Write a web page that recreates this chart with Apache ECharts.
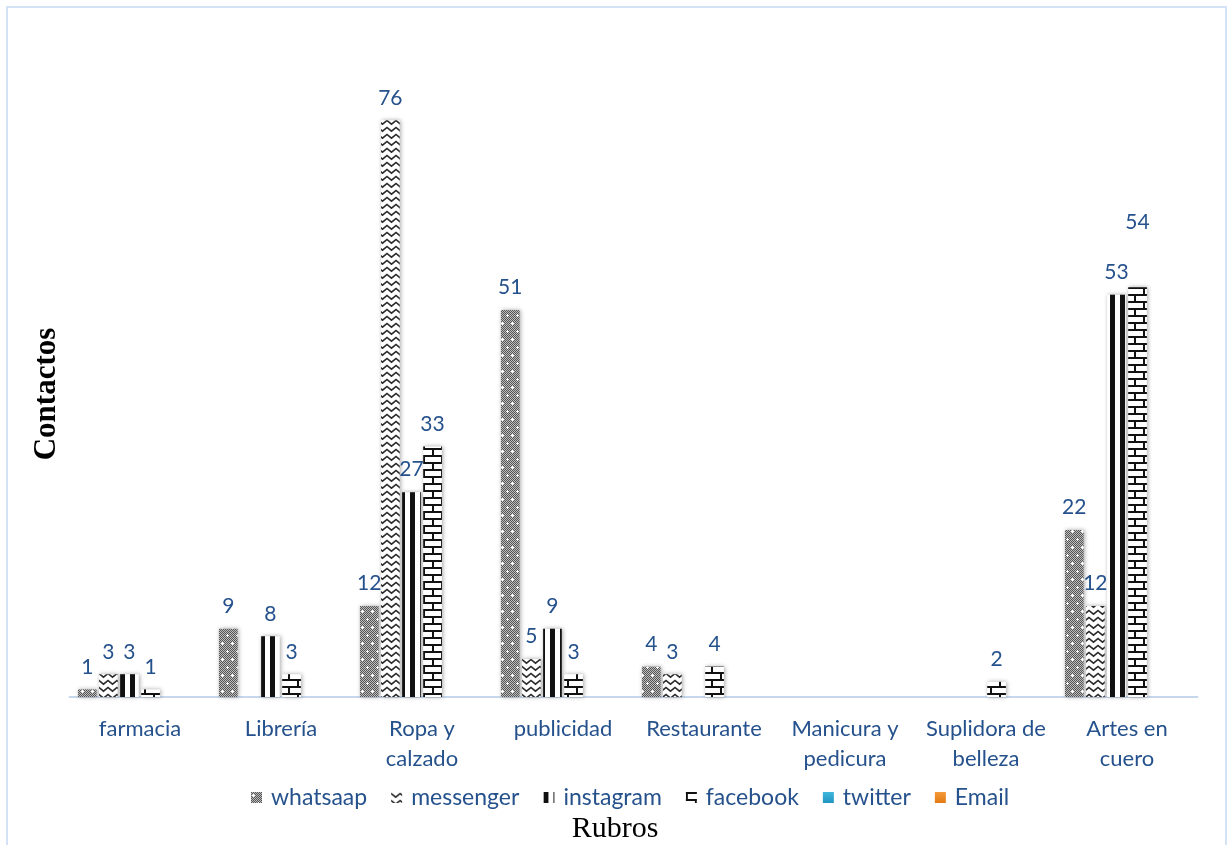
<!DOCTYPE html>
<html>
<head>
<meta charset="utf-8">
<title>Contactos por rubro</title>
<script src="https://cdn.jsdelivr.net/npm/echarts@6/dist/echarts.min.js"></script>
<style>
  html, body { margin: 0; padding: 0; background: #ffffff; }
  #chart { width: 1230px; height: 845px; }
</style>
</head>
<body>
<div id="chart"></div>
<script>
// Rubros (categories) and contacts per channel
const rubros = ['farmacia', 'Librería', 'Ropa y\ncalzado', 'publicidad', 'Restaurante', 'Manicura y\npedicura', 'Suplidora de\nbelleza', 'Artes en\ncuero'];
const canales = ['whatsaap', 'messenger', 'instagram', 'facebook', 'twitter', 'Email'];

const whatsaap  = [1, 9, 12, 51, 4, null, null, 22];
const messenger = [3, null, 76, 5, 3, null, null, 12];
const instagram = [3, 8, 27, 9, null, null, null, 53];
const facebook  = [1, 3, 33, 3, 4, null, 2, 54];
const twitter   = [null, null, null, null, null, null, null, null];
const email     = [null, null, null, null, null, null, null, null];

const yMin = 0;
const yMax = 80;

// ---- fill patterns drawn on small canvases ----
function tile(w, h, draw) {
  const c = document.createElement('canvas');
  c.width = w; c.height = h;
  const g = c.getContext('2d');
  g.fillStyle = '#ffffff';
  g.fillRect(0, 0, w, h);
  draw(g, w, h);
  return { image: c, repeat: 'repeat' };
}

// dotted checker with small white crosses
const patWhatsaap = tile(10, 16, (g, w, h) => {
  for (let y = 0; y < h; y++) {
    for (let x = 0; x < w; x++) {
      g.fillStyle = (x + y) % 2 === 0 ? '#555555' : '#bdbdbd';
      g.fillRect(x, y, 1, 1);
    }
  }
  g.fillStyle = '#ffffff';
  [[2, 3], [7, 11]].forEach(([cx, cy]) => {
    g.fillRect(cx - 1, cy, 3, 1);
    g.fillRect(cx, cy - 1, 1, 3);
  });
});

// zigzag chevrons
const patMessenger = tile(9, 7, (g) => {
  g.strokeStyle = '#2a2a2a';
  g.lineWidth = 1.6;
  g.beginPath();
  g.moveTo(-0.5, 1.2);
  g.lineTo(4.5, 5.2);
  g.lineTo(9.5, 1.2);
  g.stroke();
});

// heavy vertical stripes
const patInstagram = tile(10, 4, (g, w, h) => {
  g.fillStyle = '#111111';
  g.fillRect(0, 0, 5, h);
});

// brick / ladder pattern
const patFacebook = tile(18, 14, (g) => {
  g.fillStyle = '#111111';
  g.fillRect(0, 0, 18, 2);
  g.fillRect(0, 7, 18, 2);
  g.fillRect(0, 0, 2, 7);
  g.fillRect(9, 7, 2, 7);
});

const colTwitter = new echarts.graphic.LinearGradient(0, 0, 0, 1, [
  { offset: 0, color: '#3fb6dc' }, { offset: 1, color: '#2294c0' }
]);
const colEmail = new echarts.graphic.LinearGradient(0, 0, 0, 1, [
  { offset: 0, color: '#f59a3a' }, { offset: 1, color: '#e27a14' }
]);

const textBlue = '#25518c';
const uiFont = 'Lato, "Open Sans", sans-serif';

function barSeries(name, values, fill, extraLabel) {
  const data = values.map((v, i) => {
    if (extraLabel && extraLabel[i]) {
      return { value: v, label: extraLabel[i] };
    }
    return v;
  });
  return {
    name: name,
    type: 'bar',
    data: data,
    barGap: '13%',
    barCategoryGap: '12%',
    itemStyle: {
      color: fill,
      shadowColor: 'rgba(0,0,0,0.35)',
      shadowBlur: 4,
      shadowOffsetX: 1,
      shadowOffsetY: 0
    },
    label: {
      show: true,
      position: 'top',
      distance: 12,
      color: textBlue,
      fontFamily: uiFont,
      fontSize: 21,
      formatter: p => (p.value == null ? '' : String(p.value))
    },
    emphasis: { disabled: true }
  };
}

const chart = echarts.init(document.getElementById('chart'), null, { renderer: 'canvas' });

chart.setOption({
  animation: false,
  backgroundColor: '#ffffff',
  graphic: [{
    type: 'rect',
    shape: { x: 7, y: 7, width: 1219, height: 860 },
    style: { fill: 'none', stroke: '#d3e2f4', lineWidth: 2 },
    silent: true,
    z: -1
  }, {
    type: 'text',
    x: 615,
    y: 829,
    style: {
      text: 'Rubros',
      font: '30px "Liberation Serif", "Times New Roman", serif',
      fill: '#000000',
      align: 'center',
      verticalAlign: 'middle'
    }
  }, {
    type: 'text',
    x: 47,
    y: 394,
    rotation: Math.PI / 2,
    style: {
      text: 'Contactos',
      font: 'bold 31px "Liberation Serif", "Times New Roman", serif',
      fill: '#000000',
      align: 'center',
      verticalAlign: 'middle'
    }
  }],
  legend: {
    data: canales,
    top: 781,
    left: 246,
    itemWidth: 11,
    itemHeight: 11,
    itemGap: 24,
    icon: 'rect',
    textStyle: { color: textBlue, fontFamily: uiFont, fontSize: 23, padding: [0, 0, 0, 4] }
  },
  grid: {
    left: 69.5,
    right: 32.5,
    top: 90,
    bottom: 148,
    containLabel: false
  },
  xAxis: {
    type: 'category',
    data: rubros,
    axisTick: { show: false },
    axisLine: { show: true, lineStyle: { color: '#c7d7ec', width: 2 } },
    axisLabel: {
      color: textBlue,
      fontFamily: uiFont,
      fontSize: 22,
      lineHeight: 30,
      margin: 17,
      interval: 0
    }
  },
  yAxis: {
    type: 'value',
    min: yMin,
    max: yMax,
    show: false,
    splitLine: { show: false }
  },
  series: [
    barSeries('whatsaap', whatsaap, patWhatsaap),
    barSeries('messenger', messenger, patMessenger),
    barSeries('instagram', instagram, patInstagram),
    barSeries('facebook', facebook, patFacebook, { 7: { offset: [0, -43] } }),
    barSeries('twitter', twitter, colTwitter),
    barSeries('Email', email, colEmail)
  ]
});
</script>
</body>
</html>
